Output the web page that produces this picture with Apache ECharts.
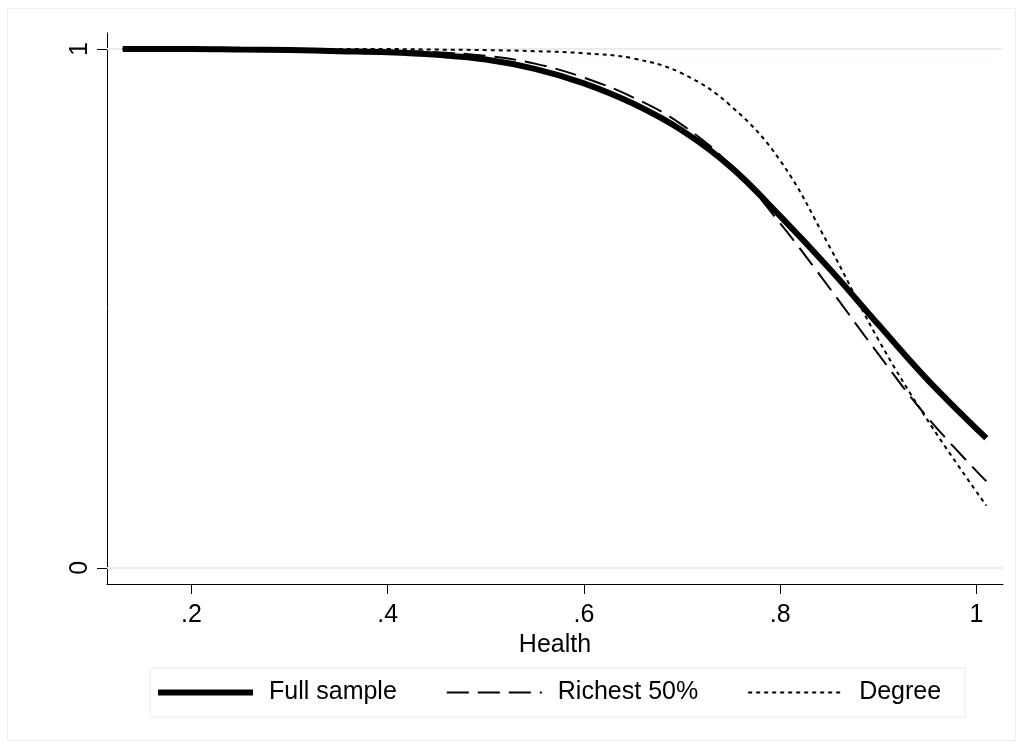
<!DOCTYPE html>
<html>
<head>
<meta charset="utf-8">
<script src="https://cdn.jsdelivr.net/npm/echarts@6/dist/echarts.min.js"></script>
<style>
html,body{margin:0;padding:0;background:#fff;}
#chart{width:1019px;height:744px;}
</style>
</head>
<body>
<div id="chart"></div>
<script>
// ---- data ----
const health =     [0.13,  0.2,   0.25,  0.3,   0.35,  0.4,   0.45,  0.5,   0.55,  0.6,   0.65,  0.7,   0.75,  0.8,   0.85,  0.9,   0.95,  1.01];
const fullSample = [1.000, 1.000, 0.999, 0.998, 0.996, 0.994, 0.989, 0.980, 0.962, 0.934, 0.895, 0.843, 0.772, 0.678, 0.577, 0.469, 0.363, 0.250];
const richest50 =  [1.000, 1.000, 1.000, 0.999, 0.998, 0.997, 0.994, 0.987, 0.972, 0.945, 0.907, 0.854, 0.775, 0.664, 0.540, 0.412, 0.290, 0.167];
const degree =     [1.000, 1.000, 1.000, 1.000, 1.000, 1.000, 0.999, 0.998, 0.996, 0.992, 0.982, 0.953, 0.890, 0.785, 0.620, 0.440, 0.285, 0.120];
const seriesNames = ['Full sample', 'Richest 50%', 'Degree'];
const xTicks = [0.2, 0.4, 0.6, 0.8, 1];
const yTicks = [0, 1];
const xTitle = 'Health';

const pairs = arr => health.map((h, i) => [h, arr[i]]);
const FONT = '"Liberation Sans", Arial, sans-serif';
const FS = 25;

const chart = echarts.init(document.getElementById('chart'), null, {renderer: 'canvas'});
chart.setOption({
  animation: false,
  backgroundColor: '#ffffff',
  textStyle: {fontFamily: FONT},
  graphic: [{
    type: 'rect', left: 5, top: 6, z: -10,
    shape: {width: 1008, height: 732},
    style: {fill: 'none', stroke: '#eceff1', lineWidth: 1}
  }],
  grid: {left: 107, right: 16, top: 33, bottom: 160, containLabel: false},
  xAxis: {
    type: 'value', min: 0.114, max: 1.027,
    name: xTitle, nameLocation: 'middle', nameGap: 41,
    nameTextStyle: {color: '#000', fontSize: FS, fontFamily: FONT},
    axisLine: {show: true, onZero: false, lineStyle: {color: '#000', width: 1}},
    axisTick: {show: true, length: 10, customValues: xTicks, lineStyle: {color: '#000'}},
    axisLabel: {
      customValues: xTicks, margin: 19, color: '#000', fontSize: FS, fontFamily: FONT,
      formatter: v => (v === 1 ? '1' : String(v).replace(/^0/, ''))
    },
    splitLine: {show: false}
  },
  yAxis: {
    type: 'value', min: -0.031, max: 1.031,
    axisLine: {show: true, onZero: false, lineStyle: {color: '#000', width: 1}},
    axisTick: {show: true, length: 10, customValues: yTicks, lineStyle: {color: '#000'}},
    axisLabel: {customValues: yTicks, rotate: 90, margin: 14, color: '#000', fontSize: FS, fontFamily: FONT},
    splitLine: {show: false}
  },
  legend: {
    data: seriesNames,
    left: 150, top: 668,
    orient: 'horizontal',
    itemWidth: 95, itemHeight: 24, itemGap: 49,
    padding: [12, 24, 12, 5],
    backgroundColor: '#ffffff',
    borderColor: '#e6ecee', borderWidth: 1,
    itemStyle: {opacity: 0},
    lineStyle: {width: 'inherit', type: 'inherit'},
    textStyle: {color: '#000', fontSize: FS, fontFamily: FONT, padding: [0, 0, 0, 11]}
  },
  series: [
    {
      name: seriesNames[0], type: 'line', data: pairs(fullSample),
      smooth: 0.4, symbol: 'none', showSymbol: false, z: 3,
      lineStyle: {color: '#000', width: 6, type: 'solid'},
      itemStyle: {color: '#000'},
      markLine: {
        silent: true, symbol: 'none', z: 1, animation: false,
        label: {show: false},
        lineStyle: {color: '#e8eef0', width: 2, type: 'solid'},
        emphasis: {disabled: true},
        data: yTicks.map(v => ({yAxis: v}))
      }
    },
    {
      name: seriesNames[1], type: 'line', data: pairs(richest50),
      smooth: 0.4, symbol: 'none', showSymbol: false, z: 4,
      lineStyle: {color: '#000', width: 2, type: [22, 9]},
      itemStyle: {color: '#000'}
    },
    {
      name: seriesNames[2], type: 'line', data: pairs(degree),
      smooth: 0.4, symbol: 'none', showSymbol: false, z: 5,
      lineStyle: {color: '#000', width: 2, type: [4, 4]},
      itemStyle: {color: '#000'}
    }
  ]
});
</script>
</body>
</html>
